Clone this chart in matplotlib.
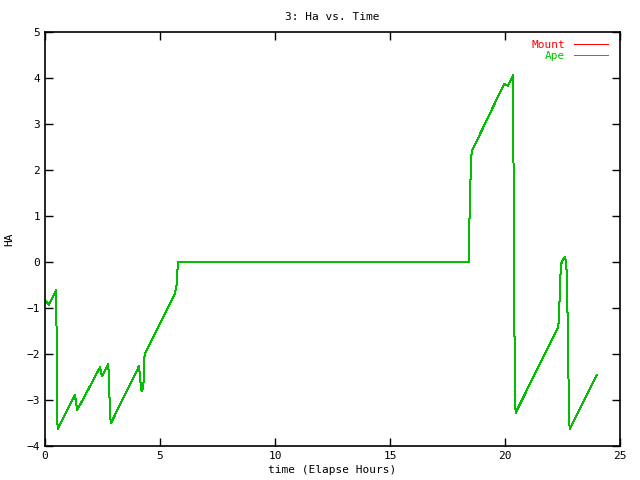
import matplotlib
matplotlib.use("Agg")
import matplotlib.pyplot as plt

# Hour angle vs elapsed time
time_hours = [0.00, 0.17, 0.48, 0.50, 0.51, 0.55, 0.58,
              1.30, 1.40, 2.39, 2.47, 2.54, 2.75, 2.78, 2.82, 2.86,
              4.09, 4.16, 4.20, 4.27, 4.31, 4.33,
              5.65, 5.72, 5.78, 18.43, 18.44, 18.50, 18.55,
              19.97, 20.12, 20.36, 20.37, 20.41, 20.46,
              22.32, 22.36, 22.40, 22.45, 22.54, 22.61, 22.64, 22.68,
              22.72, 22.77, 22.81, 23.99]
mount_ha = [-0.83, -0.93, -0.61, -1.33, -2.89, -3.64, -3.60,
            -2.89, -3.22, -2.29, -2.48, -2.42, -2.22, -2.54, -3.18, -3.51,
            -2.26, -2.67, -2.80, -2.75, -2.35, -2.00,
            -0.68, -0.50, 0.00, 0.00, 0.60, 1.78, 2.40,
            3.88, 3.83, 4.07, 2.23, -1.46, -3.28,
            -1.41, -1.03, -0.38, -0.03, 0.07, 0.12, 0.04, -0.20,
            -1.13, -2.80, -3.64, -2.46]
ape_ha = list(mount_ha)

fig = plt.figure(figsize=(6.4, 4.8), dpi=100)
ax = fig.add_axes([0.0703, 0.0708, 0.8984, 0.8625])

# gnuplot png look: aliased 1px lines, Ape drawn over Mount
ax.plot(time_hours, mount_ha, color="#ff0000", lw=0.72, label="Mount",
        antialiased=False)
ax.plot(time_hours, ape_ha, color="#00c000", lw=0.72, label="Ape",
        antialiased=False)

ax.set_xlim(0, 25)
ax.set_ylim(-4, 5)
ax.set_xticks([0, 5, 10, 15, 20, 25])
ax.set_yticks(range(-4, 6))

font = "DejaVu Sans Mono"
ax.tick_params(direction="in", length=6, width=1, top=True, right=True,
               labelsize=8)
for lab in ax.get_xticklabels() + ax.get_yticklabels():
    lab.set_fontfamily(font)
for s in ax.spines.values():
    s.set_linewidth(1.2)

ax.set_title("3: Ha vs. Time", fontsize=8, family=font, pad=9)
ax.set_xlabel("time (Elapse Hours)", fontsize=8, family=font, labelpad=3)
ax.set_ylabel("HA", fontsize=8, family=font, labelpad=9)

ax.legend(loc="upper right", frameon=False, markerfirst=False,
          labelcolor="linecolor", prop={"family": font, "size": 8},
          handlelength=3.0, handletextpad=0.8, labelspacing=0.1,
          borderaxespad=0.3, bbox_to_anchor=(0.992, 1.0))

fig.savefig("out.png", dpi=100)
